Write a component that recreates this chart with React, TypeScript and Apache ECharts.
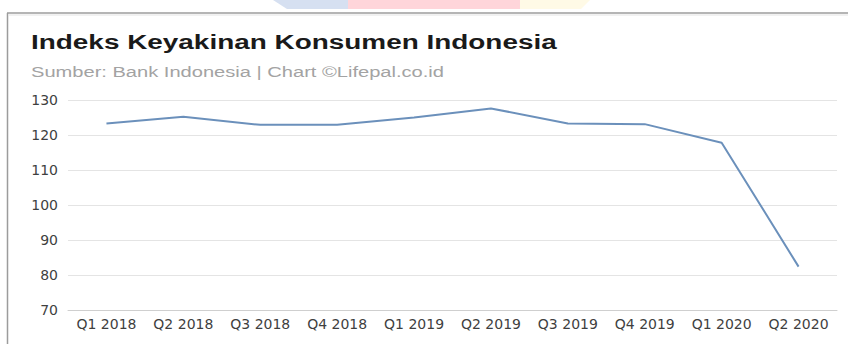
import React, { useEffect, useRef } from "react";
import * as echarts from "echarts";

const categories = [
  "Q1 2018",
  "Q2 2018",
  "Q3 2018",
  "Q4 2018",
  "Q1 2019",
  "Q2 2019",
  "Q3 2019",
  "Q4 2019",
  "Q1 2020",
  "Q2 2020",
];
const indexValues = [123.3, 125.2, 122.9, 122.9, 125.0, 127.6, 123.3, 123.1, 117.8, 82.4];
const yMin = 70;
const yMax = 130;
const yStep = 10;

const titleText = "Indeks Keyakinan Konsumen Indonesia";
const subtitleText = "Sumber: Bank Indonesia | Chart \u00A9Lifepal.co.id";

export default function App() {
  const ref = useRef<HTMLDivElement>(null);

  useEffect(() => {
    if (!ref.current) return;
    const chart = echarts.init(ref.current, null, { renderer: "svg" });
    const axisFont = '"DejaVu Sans", sans-serif';
    chart.setOption({
      animation: false,
      backgroundColor: "#ffffff",
      grid: { left: 68, right: 11, top: 100, bottom: 34, containLabel: false },
      xAxis: {
        type: "category",
        data: categories,
        boundaryGap: true,
        axisTick: { show: false },
        axisLine: { show: true, lineStyle: { color: "#cfcfcf", width: 1 } },
        axisLabel: {
          interval: 0,
          hideOverlap: false,
          margin: 7,
          fontSize: 14,
          fontFamily: axisFont,
          color: "#3f3f3f",
        },
        splitLine: { show: false },
      },
      yAxis: {
        type: "value",
        min: yMin,
        max: yMax,
        interval: yStep,
        axisLine: { show: false },
        axisTick: { show: false },
        axisLabel: {
          margin: 10,
          fontSize: 14,
          fontFamily: axisFont,
          color: "#3f3f3f",
        },
        splitLine: { show: true, lineStyle: { color: "#e4e4e4", width: 1 } },
      },
      series: [
        {
          type: "line",
          data: indexValues,
          symbol: "none",
          lineStyle: { color: "#6b90bb", width: 2 },
          z: 5,
        },
      ],
      graphic: [
        {
          type: "polygon",
          shape: { points: [[273, 0], [348, 0], [348, 9], [287, 9]] },
          style: { fill: "#d6e0f1" },
          silent: true,
        },
        {
          type: "rect",
          shape: { x: 348, y: 0, width: 172, height: 9 },
          style: { fill: "#ffd5da" },
          silent: true,
        },
        {
          type: "polygon",
          shape: { points: [[520, 0], [590, 0], [581, 9], [520, 9]] },
          style: { fill: "#fffae6" },
          silent: true,
        },
        {
          type: "line",
          shape: { x1: 7, y1: 13, x2: 848, y2: 13 },
          style: { stroke: "#9c9c9c", lineWidth: 1.5 },
          silent: true,
        },
        {
          type: "line",
          shape: { x1: 9, y1: 15, x2: 848, y2: 15 },
          style: { stroke: "#ececec", lineWidth: 1.5 },
          silent: true,
        },
        {
          type: "line",
          shape: { x1: 7.5, y1: 13, x2: 7.5, y2: 344 },
          style: { stroke: "#9c9c9c", lineWidth: 1.5 },
          silent: true,
        },
        {
          type: "text",
          x: 31,
          y: 42,
          scaleX: 1.33,
          style: {
            text: titleText,
            font: 'bold 21px "Liberation Sans", Arial, sans-serif',
            fill: "#1a1a1a",
            align: "left",
            verticalAlign: "middle",
          },
          silent: true,
        },
        {
          type: "text",
          x: 31,
          y: 72,
          scaleX: 1.34,
          style: {
            text: subtitleText,
            font: '15px "Liberation Sans", Arial, sans-serif',
            fill: "#a3a3a3",
            align: "left",
            verticalAlign: "middle",
          },
          silent: true,
        },
      ],
    });
    return () => {
      chart.dispose();
    };
  }, []);

  return (
    <div
      ref={ref}
      style={{ position: "fixed", left: 0, top: 0, width: 848, height: 344 }}
    />
  );
}
